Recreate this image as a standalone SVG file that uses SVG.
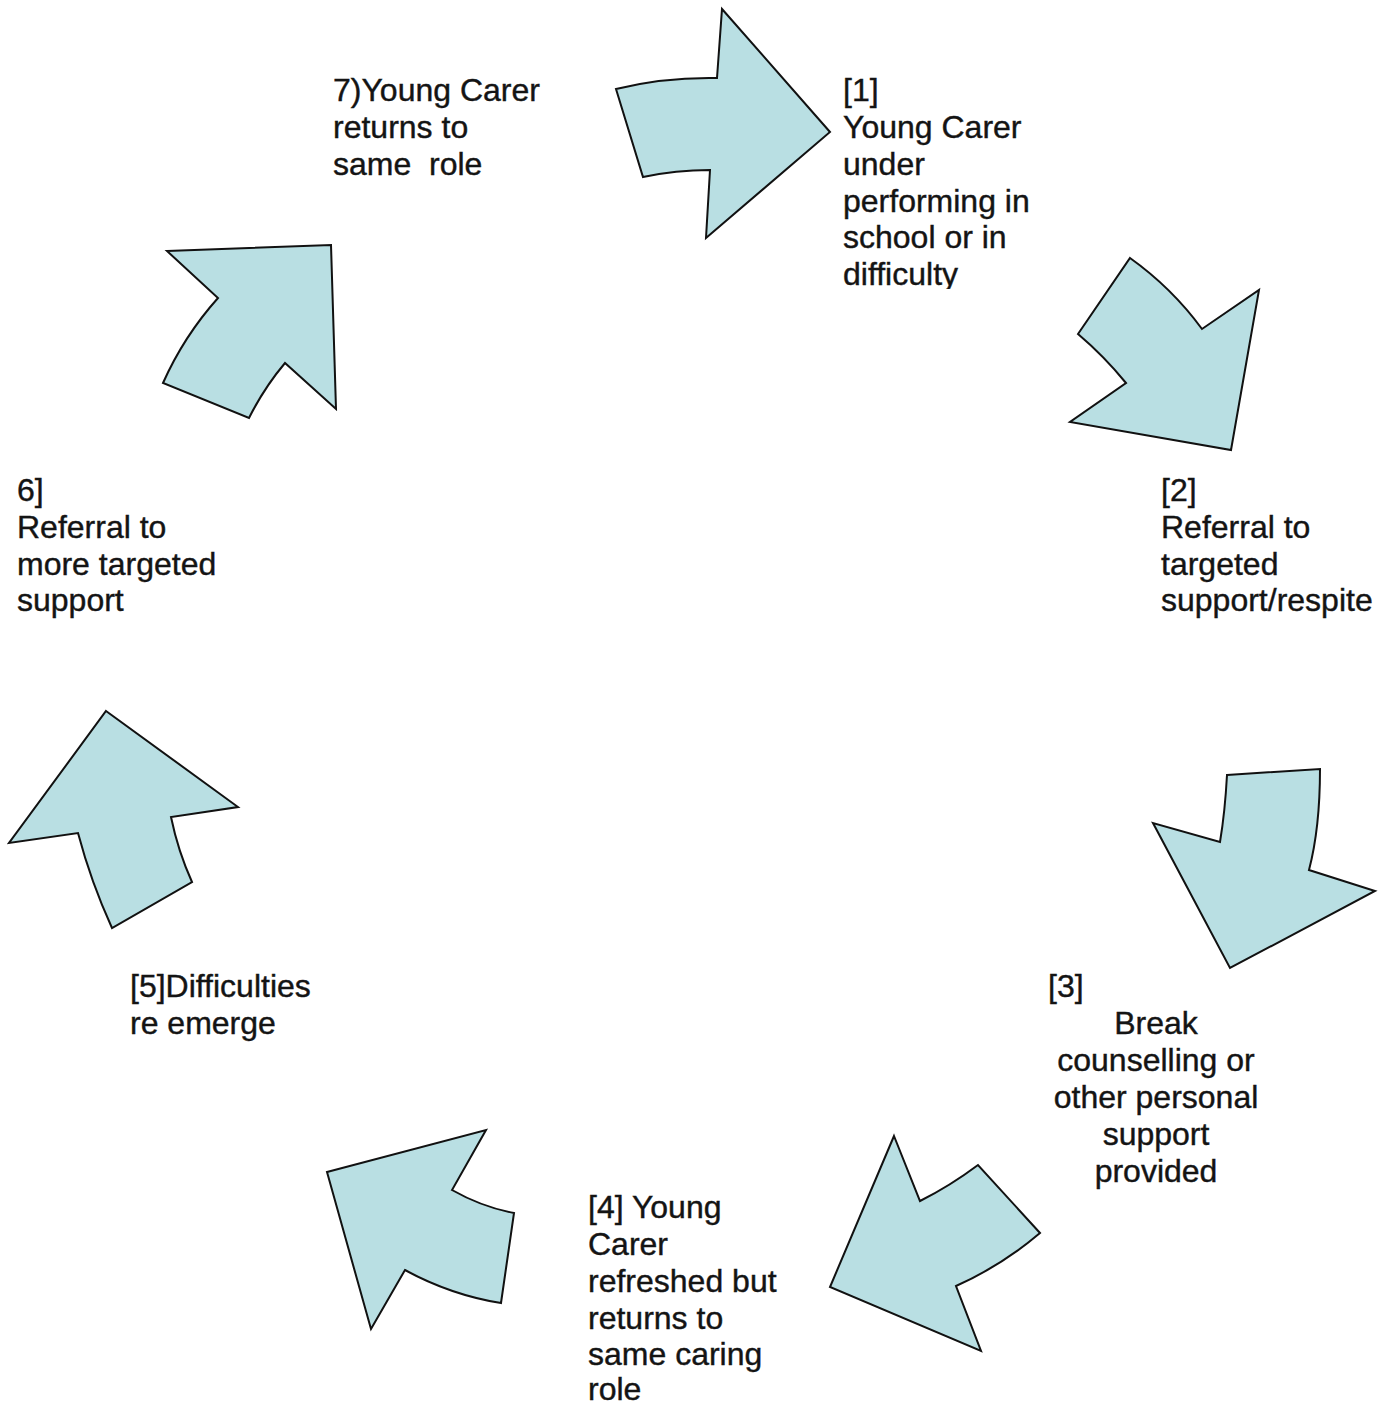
<svg xmlns="http://www.w3.org/2000/svg" width="1393" height="1407" viewBox="0 0 1393 1407">
<style>
.arr{fill:#b9dfe3;stroke:#111;stroke-width:2;stroke-linejoin:miter}
.t{font-family:"Liberation Sans",Arial,sans-serif;font-size:32px;fill:#141414;stroke:#141414;stroke-width:0.4}
.c{text-anchor:middle}
</style>
<defs>
<clipPath id="clip1"><rect x="830" y="60" width="250" height="229"/></clipPath>
</defs>
<rect width="1393" height="1407" fill="#fff"/>
<g id="connectors">
<path id="arrow1" class="arr" d="M722,9 L830,132 L706,238 L710,170 Q676,170 643,177 L616,89 Q664,77 717,78 Z"/>
<path id="arrow2" class="arr" d="M1130,258 Q1172,288 1202,329 L1259,290 L1231,450 L1070,422 L1126,383 Q1104,356 1078,334 Z"/>
<path id="arrow3" class="arr" d="M1227,775 L1320,769 Q1320,828 1309,870 L1375,891 L1230,968 L1153,823 L1220,842 Q1225,812 1227,775 Z"/>
<path id="arrow4" class="arr" d="M894,1136 L920,1201 Q950,1186 978,1165 L1040,1233 Q1001,1266 956,1286 L981,1351 L830,1287 Z"/>
<path id="arrow5" class="arr" d="M327,1172 L486,1130 L452,1190 Q482,1207 514,1213 L501,1303 Q451,1295 405,1270 L371,1329 Z"/>
<path id="arrow6" class="arr" d="M106,711 L238,807 L171,817 Q178,851 192,882 L112,928 Q91,882 78,833 L9,843 Z"/>
<path id="arrow7" class="arr" d="M167,251 L331,245 L336,409 L285,363 Q264,388 249,418 L163,383 Q184,336 218,298 Z"/>
</g>
<g id="node1" clip-path="url(#clip1)">
<text class="t" x="843" y="101">[1]</text>
<text class="t" x="843" y="138">Young Carer</text>
<text class="t" x="843" y="175">under</text>
<text class="t" x="843" y="212">performing in</text>
<text class="t" x="843" y="248">school or in</text>
<text class="t" x="843" y="285">difficulty</text>
</g>
<g id="node2">
<text class="t" x="1161" y="501">[2]</text>
<text class="t" x="1161" y="538">Referral to</text>
<text class="t" x="1161" y="575">targeted</text>
<text class="t" x="1161" y="611">support/respite</text>
</g>
<g id="node3">
<text class="t" x="1048" y="997">[3]</text>
<text class="t c" x="1156" y="1034">Break</text>
<text class="t c" x="1156" y="1071">counselling or</text>
<text class="t c" x="1156" y="1108">other personal</text>
<text class="t c" x="1156" y="1145">support</text>
<text class="t c" x="1156" y="1182">provided</text>
</g>
<g id="node4">
<text class="t" x="588" y="1218">[4] Young</text>
<text class="t" x="588" y="1255">Carer</text>
<text class="t" x="588" y="1292">refreshed but</text>
<text class="t" x="588" y="1329">returns to</text>
<text class="t" x="588" y="1365">same caring</text>
<text class="t" x="588" y="1400">role</text>
</g>
<g id="node5">
<text class="t" x="130" y="997">[5]Difficulties</text>
<text class="t" x="130" y="1034">re emerge</text>
</g>
<g id="node6">
<text class="t" x="17" y="501">6]</text>
<text class="t" x="17" y="538">Referral to</text>
<text class="t" x="17" y="575">more targeted</text>
<text class="t" x="17" y="611">support</text>
</g>
<g id="node7">
<text class="t" x="333" y="101">7)Young Carer</text>
<text class="t" x="333" y="138">returns to</text>
<text class="t" x="333" y="175" xml:space="preserve">same  role</text>
</g>
</svg>
